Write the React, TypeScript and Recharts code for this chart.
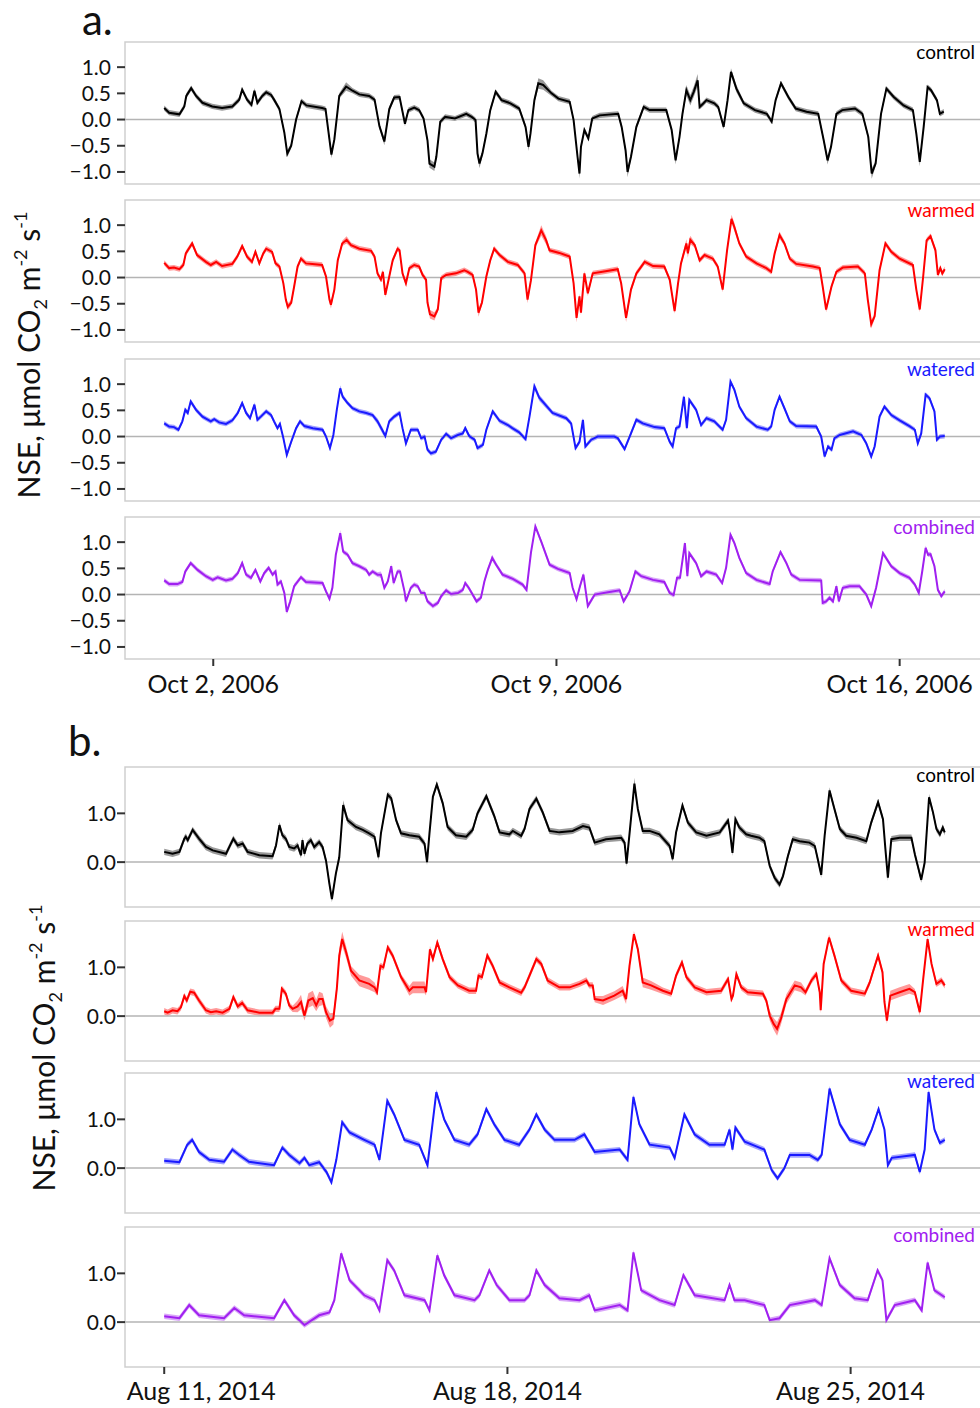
import React from 'react';
import { ComposedChart, Line, Area, XAxis, YAxis, ReferenceLine, ReferenceArea } from 'recharts';

const FONT = 'Lato, "Open Sans", "DejaVu Sans", sans-serif';

// ---- axis definitions ----
const aTickDays = [1, 8, 15];
const aTickLabels = ['Oct 2, 2006', 'Oct 9, 2006', 'Oct 16, 2006'];
const bTickDays = [0, 7, 14];
const bTickLabels = ['Aug 11, 2014', 'Aug 18, 2014', 'Aug 25, 2014'];
const aYTicks = [-1, -0.5, 0, 0.5, 1];
const bYTicks = [0, 1];
const treatmentNames = ['control', 'warmed', 'watered', 'combined'];
const treatmentColors = ['#000000', '#ff0000', '#1a1aff', '#a020f0'];

// ---- data: [day since start, NSE, optional half-width of ribbon] ----
const aControl = [[0.00,0.22],[0.10,0.13],[0.31,0.10],[0.41,0.25],[0.45,0.45],[0.55,0.60],[0.65,0.45],[0.78,0.32],[0.98,0.25],[1.18,0.22],[1.39,0.25],[1.53,0.38],[1.59,0.57],[1.69,0.38],[1.78,0.28],[1.84,0.55],[1.90,0.32],[2.00,0.45],[2.08,0.52],[2.18,0.47],[2.24,0.38],[2.35,0.20],[2.45,-0.25],[2.51,-0.65,0.07],[2.59,-0.50],[2.69,0.00],[2.80,0.35],[2.90,0.27],[3.22,0.22],[3.29,0.20],[3.41,-0.67,0.07],[3.47,-0.38],[3.57,0.45],[3.71,0.63,0.08],[3.84,0.55],[3.98,0.48],[4.18,0.45],[4.29,0.38],[4.39,-0.13],[4.49,-0.42,0.07],[4.59,0.20],[4.69,0.42],[4.80,0.43],[4.91,-0.08],[4.98,0.18],[5.10,0.23],[5.20,0.18],[5.29,0.02],[5.37,-0.40],[5.41,-0.84,0.08],[5.51,-0.90,0.08],[5.55,-0.71],[5.63,-0.04],[5.73,0.05],[5.93,0.02],[6.16,0.11],[6.27,0.05],[6.35,-0.01],[6.39,-0.65],[6.43,-0.84,0.09],[6.49,-0.65],[6.57,-0.27],[6.65,0.18],[6.76,0.53],[6.88,0.37],[7.06,0.31],[7.24,0.21],[7.37,-0.14],[7.43,-0.52,0.08],[7.47,-0.27],[7.55,0.37],[7.63,0.69,0.1],[7.73,0.66,0.09],[7.90,0.50],[8.04,0.40],[8.27,0.34],[8.35,-0.01],[8.43,-0.71],[8.47,-1.03,0.1],[8.50,-0.52],[8.57,-0.20],[8.65,-0.36],[8.73,0.02],[8.88,0.08],[9.26,0.11],[9.33,-0.14],[9.41,-0.59],[9.45,-1.00,0.1],[9.52,-0.71],[9.63,-0.14],[9.78,0.24],[9.90,0.18],[10.24,0.18],[10.35,-0.20],[10.43,-0.78,0.08],[10.51,-0.33],[10.57,0.11],[10.65,0.56,0.1],[10.73,0.37,0.1],[10.80,0.53,0.1],[10.88,0.75,0.12],[10.92,0.24],[11.00,0.31],[11.06,0.37],[11.22,0.31],[11.30,0.24],[11.41,-0.14],[11.49,0.37],[11.56,0.91,0.07],[11.67,0.59,0.07],[11.82,0.31],[12.05,0.18],[12.29,0.11],[12.39,-0.04],[12.47,0.37],[12.58,0.69],[12.73,0.43],[12.88,0.21],[13.10,0.15],[13.34,0.11],[13.45,-0.39],[13.53,-0.78,0.08],[13.60,-0.52],[13.71,0.11],[13.83,0.18],[14.09,0.21],[14.24,0.11],[14.36,-0.33],[14.43,-1.03,0.1],[14.51,-0.84],[14.62,0.11],[14.73,0.59],[14.88,0.43],[15.08,0.27],[15.27,0.18],[15.34,-0.27],[15.41,-0.81,0.08],[15.49,-0.14],[15.57,0.62],[15.64,0.56],[15.76,0.37],[15.82,0.11],[15.90,0.15]];

const aWarmed = [[0.00,0.28],[0.10,0.18],[0.20,0.19],[0.31,0.16],[0.39,0.24],[0.44,0.46],[0.57,0.65],[0.67,0.43],[0.85,0.30],[0.95,0.24],[1.06,0.30],[1.18,0.22],[1.39,0.26],[1.49,0.40],[1.59,0.60],[1.69,0.40],[1.79,0.30],[1.86,0.49],[1.94,0.27],[2.02,0.46],[2.08,0.55],[2.20,0.49],[2.27,0.27],[2.35,0.21],[2.43,-0.11],[2.48,-0.42],[2.52,-0.56,0.07],[2.59,-0.48],[2.65,-0.17],[2.72,0.21],[2.79,0.36],[2.89,0.27],[3.02,0.26],[3.22,0.24],[3.30,0.02],[3.37,-0.42],[3.40,-0.52,0.07],[3.47,-0.23],[3.54,0.33],[3.63,0.65],[3.72,0.72,0.07],[3.81,0.62],[3.98,0.55],[4.22,0.51],[4.29,0.40],[4.35,0.08],[4.42,-0.04],[4.46,0.11],[4.51,-0.33],[4.59,0.02],[4.66,0.33],[4.76,0.55],[4.80,0.52],[4.86,0.08],[4.93,-0.11],[5.00,0.18],[5.10,0.24],[5.20,0.21],[5.27,0.05],[5.34,-0.04],[5.37,-0.48],[5.42,-0.70,0.08],[5.51,-0.74,0.08],[5.58,-0.61],[5.65,-0.01],[5.75,0.05],[5.95,0.08],[6.12,0.14],[6.19,0.11],[6.29,0.05],[6.36,-0.23],[6.41,-0.67,0.08],[6.48,-0.48],[6.57,0.02],[6.65,0.33],[6.73,0.55],[6.84,0.43],[7.01,0.30],[7.21,0.24],[7.35,0.08],[7.41,-0.42,0.07],[7.48,-0.05],[7.57,0.62],[7.69,0.90,0.1],[7.79,0.71,0.08],[7.86,0.52],[8.06,0.47],[8.27,0.40],[8.35,-0.11],[8.41,-0.77,0.09],[8.47,-0.36],[8.50,-0.67],[8.57,0.08],[8.64,-0.30],[8.74,0.08],[8.94,0.11],[9.25,0.16],[9.32,-0.11],[9.42,-0.77,0.08],[9.52,-0.23],[9.63,0.08],[9.80,0.30],[9.97,0.22],[10.20,0.21],[10.31,-0.04],[10.41,-0.64],[10.48,-0.11],[10.54,0.27],[10.65,0.65,0.08],[10.68,0.46,0.08],[10.73,0.72,0.08],[10.82,0.62],[10.92,0.33],[11.02,0.43],[11.19,0.36],[11.29,0.21],[11.39,-0.23],[11.48,0.52],[11.57,1.12,0.08],[11.63,0.96,0.08],[11.73,0.65],[11.87,0.40],[12.08,0.27],[12.28,0.18],[12.38,0.11],[12.45,0.46],[12.55,0.81,0.07],[12.65,0.65],[12.76,0.36],[12.89,0.26],[13.23,0.21],[13.37,0.18],[13.43,-0.17],[13.50,-0.61],[13.61,-0.17],[13.71,0.11],[13.84,0.19],[14.15,0.21],[14.29,0.08],[14.35,-0.42],[14.42,-0.89,0.08],[14.49,-0.74],[14.59,0.14],[14.71,0.65],[14.83,0.49],[15.00,0.36],[15.27,0.24],[15.34,-0.23],[15.41,-0.61],[15.48,0.02],[15.55,0.71],[15.63,0.79],[15.73,0.52],[15.78,0.05],[15.83,0.18],[15.87,0.08],[15.92,0.16]];

const aWatered = [[0.00,0.25],[0.10,0.19],[0.20,0.18],[0.29,0.13],[0.37,0.29],[0.43,0.51],[0.48,0.45],[0.54,0.67],[0.65,0.51],[0.78,0.38],[0.95,0.29],[1.02,0.33],[1.12,0.27],[1.26,0.24],[1.39,0.31],[1.50,0.45],[1.59,0.64],[1.67,0.45],[1.75,0.35],[1.84,0.61],[1.90,0.32],[1.97,0.38],[2.08,0.48],[2.18,0.41],[2.24,0.29],[2.31,0.16],[2.36,0.24],[2.43,-0.03],[2.50,-0.35],[2.59,-0.10],[2.69,0.16],[2.77,0.29],[2.86,0.20],[3.03,0.16],[3.23,0.13],[3.30,0.00],[3.38,-0.22],[3.45,0.03],[3.52,0.51],[3.59,0.92,0.06],[3.64,0.76],[3.74,0.64],[3.84,0.54],[3.98,0.48],[4.12,0.45],[4.25,0.41],[4.35,0.29,0.06],[4.46,0.10,0.06],[4.51,0.01],[4.59,0.29],[4.69,0.38],[4.80,0.45],[4.86,0.16],[4.93,-0.13],[5.03,0.13],[5.17,0.13],[5.24,-0.03],[5.31,0.00],[5.37,-0.25],[5.44,-0.32],[5.54,-0.29],[5.65,-0.06],[5.75,0.05],[5.85,-0.03],[5.99,0.03],[6.09,0.06],[6.14,0.16],[6.22,0.01],[6.33,-0.06],[6.39,-0.22],[6.50,-0.16],[6.57,0.13],[6.70,0.48],[6.84,0.30],[7.01,0.22],[7.10,0.16],[7.24,0.08],[7.37,-0.05],[7.45,0.38],[7.55,0.96,0.06],[7.65,0.74,0.06],[7.92,0.45],[8.20,0.35],[8.30,0.25],[8.39,-0.22],[8.47,-0.10],[8.54,0.32],[8.59,-0.19],[8.71,-0.06],[8.84,0.00],[9.18,0.00],[9.25,-0.03],[9.39,-0.24],[9.52,0.06],[9.63,0.32],[9.76,0.25],[10.00,0.18],[10.20,0.16],[10.31,-0.10],[10.37,-0.19],[10.44,0.16],[10.51,0.19],[10.60,0.76],[10.66,0.16],[10.71,0.70],[10.85,0.51],[10.95,0.22],[11.06,0.35],[11.22,0.29],[11.39,0.13],[11.46,0.32],[11.55,1.05],[11.63,0.89],[11.73,0.57],[11.87,0.35],[12.08,0.19],[12.31,0.13],[12.38,0.19],[12.45,0.51],[12.55,0.76],[12.65,0.54],[12.76,0.29],[12.89,0.20],[13.30,0.19],[13.40,0.00],[13.47,-0.38],[13.54,-0.19],[13.61,-0.25],[13.67,-0.03],[13.78,0.03],[14.05,0.10],[14.22,0.03],[14.32,-0.13],[14.42,-0.38],[14.49,-0.19],[14.59,0.38],[14.69,0.57],[14.83,0.41],[15.00,0.31],[15.20,0.20],[15.31,0.13],[15.37,-0.13],[15.44,0.06],[15.53,0.80],[15.61,0.73],[15.71,0.48],[15.76,-0.06],[15.82,0.00],[15.92,0.01]];

const aCombined = [[0.00,0.27],[0.10,0.20],[0.27,0.20],[0.37,0.24],[0.43,0.44],[0.54,0.60],[0.68,0.47],[0.85,0.35],[0.99,0.28],[1.09,0.33],[1.26,0.27],[1.39,0.30],[1.50,0.41],[1.59,0.60],[1.67,0.38],[1.77,0.32],[1.86,0.47],[1.96,0.25],[2.04,0.41],[2.13,0.51],[2.21,0.38],[2.27,0.44],[2.31,0.19],[2.38,0.25],[2.45,0.03],[2.50,-0.33],[2.57,-0.13],[2.65,0.16],[2.79,0.33],[2.89,0.24],[3.23,0.22],[3.30,0.06],[3.37,-0.08],[3.43,0.13],[3.50,0.76],[3.59,1.17,0.06],[3.65,0.82],[3.74,0.76],[3.84,0.60],[3.98,0.54],[4.12,0.47],[4.18,0.38],[4.25,0.44],[4.35,0.38],[4.42,0.38,0.06],[4.49,0.13],[4.56,0.25],[4.63,0.54],[4.68,0.22],[4.76,0.44],[4.81,0.44],[4.90,0.06],[4.93,-0.13],[5.03,0.13],[5.10,0.19],[5.17,0.16],[5.24,0.03],[5.31,0.03],[5.37,-0.13],[5.48,-0.22],[5.58,-0.16],[5.65,-0.03],[5.75,0.08],[5.85,0.01],[5.99,0.03],[6.09,0.09],[6.14,0.22],[6.21,0.13],[6.29,0.00],[6.37,-0.13],[6.46,-0.06],[6.53,0.25],[6.60,0.47],[6.69,0.70,0.06],[6.77,0.57],[6.90,0.38],[7.11,0.30],[7.31,0.19],[7.39,0.09],[7.48,0.80],[7.57,1.30],[7.69,1.01],[7.86,0.57],[8.03,0.49],[8.27,0.41],[8.33,0.13],[8.41,-0.09],[8.48,0.16],[8.55,0.38],[8.64,-0.22],[8.78,0.00],[9.08,0.05],[9.29,0.08],[9.37,-0.13],[9.49,0.06],[9.61,0.44],[9.73,0.35],[9.97,0.28],[10.20,0.24],[10.31,0.03],[10.39,-0.01],[10.46,0.32],[10.52,0.32],[10.62,0.98],[10.67,0.35],[10.71,0.79],[10.85,0.60],[10.95,0.35],[11.06,0.44],[11.26,0.38],[11.38,0.22],[11.46,0.51],[11.55,1.14],[11.63,0.98],[11.73,0.70],[11.87,0.41],[12.08,0.28],[12.35,0.20],[12.41,0.44],[12.57,0.81],[12.69,0.60],[12.79,0.38],[12.96,0.28],[13.40,0.27],[13.43,-0.16],[13.50,-0.13],[13.57,-0.06],[13.64,-0.13],[13.71,0.16],[13.76,-0.13],[13.84,0.13],[13.98,0.16],[14.18,0.16],[14.32,0.00],[14.42,-0.22],[14.52,0.13],[14.66,0.79],[14.83,0.54],[15.00,0.41],[15.20,0.32],[15.31,0.19],[15.39,0.03],[15.46,0.44],[15.53,0.89],[15.58,0.76],[15.63,0.77],[15.71,0.54],[15.78,0.09],[15.85,-0.03],[15.92,0.06]];

const bControl = [[0.00,0.21],[0.17,0.17],[0.31,0.21],[0.41,0.48],[0.44,0.52],[0.48,0.45],[0.58,0.66],[0.71,0.48],[0.85,0.31],[0.99,0.24],[1.26,0.17],[1.36,0.38],[1.41,0.48],[1.50,0.34],[1.60,0.38],[1.70,0.21],[1.94,0.14],[2.21,0.12],[2.28,0.34],[2.35,0.76],[2.41,0.55],[2.48,0.48],[2.55,0.31],[2.65,0.28],[2.72,0.34],[2.79,0.14],[2.82,0.45],[2.86,0.17],[2.92,0.38],[2.99,0.45],[3.06,0.31],[3.16,0.41],[3.23,0.31],[3.30,0.03],[3.37,-0.45],[3.42,-0.76],[3.50,-0.24],[3.57,0.10],[3.65,1.17,0.1],[3.74,0.86],[3.91,0.72],[4.05,0.66],[4.18,0.59],[4.29,0.52],[4.37,0.10],[4.42,0.59],[4.56,1.38],[4.63,1.31],[4.73,0.86],[4.83,0.59],[5.00,0.55],[5.20,0.52],[5.31,0.38],[5.36,0.00],[5.41,0.59],[5.48,1.34],[5.56,1.59],[5.68,1.21],[5.78,0.72],[5.95,0.55],[6.16,0.52],[6.29,0.66],[6.39,1.00],[6.57,1.35],[6.73,0.95],[6.84,0.61],[7.04,0.57],[7.11,0.64],[7.28,0.54],[7.35,0.68],[7.45,1.09],[7.59,1.30],[7.72,1.02],[7.86,0.64],[8.06,0.61],[8.33,0.64],[8.54,0.74],[8.67,0.71],[8.78,0.40],[9.01,0.47],[9.32,0.50],[9.39,0.40],[9.43,-0.03],[9.50,0.68],[9.59,1.61,0.12],[9.66,1.09],[9.76,0.64],[9.90,0.64],[10.10,0.57],[10.31,0.33],[10.37,0.06],[10.44,0.61],[10.57,1.16],[10.68,0.81],[10.85,0.61],[11.06,0.54],[11.33,0.61],[11.50,0.85],[11.54,0.61],[11.59,0.19],[11.65,0.88],[11.73,0.71],[11.87,0.57],[11.97,0.54],[12.14,0.50],[12.24,0.43],[12.35,-0.08],[12.45,-0.32],[12.55,-0.46],[12.62,-0.29],[12.72,0.12],[12.82,0.47],[12.96,0.43],[13.16,0.40],[13.27,0.33],[13.33,0.06],[13.40,-0.26],[13.47,0.54],[13.57,1.47],[13.67,1.09],[13.78,0.68],[13.91,0.54],[14.12,0.50],[14.32,0.43],[14.42,0.81],[14.56,1.23],[14.66,0.88],[14.71,0.26],[14.76,-0.32],[14.83,0.47],[15.00,0.50],[15.24,0.50],[15.31,0.16],[15.37,-0.08],[15.44,-0.36],[15.51,-0.01],[15.60,1.33],[15.68,1.02],[15.75,0.68],[15.82,0.57],[15.88,0.71],[15.92,0.61]];

const bWarmed = [[0.00,0.10],[0.07,0.07],[0.17,0.12],[0.27,0.10],[0.34,0.18],[0.41,0.41],[0.46,0.32],[0.53,0.50],[0.61,0.48],[0.71,0.32],[0.85,0.12],[0.95,0.08],[1.06,0.10],[1.19,0.07],[1.33,0.15],[1.41,0.39],[1.50,0.20],[1.59,0.27],[1.70,0.12],[1.94,0.07],[2.21,0.07],[2.27,0.15],[2.35,0.15],[2.40,0.56],[2.48,0.46],[2.55,0.22],[2.62,0.15],[2.72,0.20,0.12],[2.79,0.29,0.15],[2.86,0.01,0.1],[2.94,0.32,0.15],[3.03,0.37,0.15],[3.10,0.22,0.12],[3.16,0.35,0.15],[3.23,0.35,0.12],[3.30,0.08,0.12],[3.38,-0.09,0.15],[3.45,-0.05,0.12],[3.52,0.56,0.12],[3.57,1.24,0.15],[3.63,1.58,0.15],[3.71,1.31,0.12],[3.81,0.93,0.1],[3.98,0.73,0.12],[4.18,0.66,0.12],[4.29,0.59,0.1],[4.34,0.49],[4.41,1.03],[4.47,1.00],[4.56,1.41],[4.66,1.24],[4.83,0.80],[5.00,0.52,0.1],[5.07,0.59,0.12],[5.31,0.59,0.12],[5.34,0.49],[5.42,1.37],[5.48,1.17],[5.57,1.51],[5.68,1.17],[5.82,0.80],[5.99,0.63],[6.22,0.52],[6.36,0.52],[6.41,0.83],[6.48,0.80],[6.59,1.24],[6.70,1.03],[6.84,0.69],[7.04,0.59],[7.28,0.48],[7.35,0.59],[7.45,0.83],[7.59,1.17],[7.69,1.07],[7.82,0.73],[8.06,0.59],[8.27,0.59],[8.47,0.66],[8.61,0.73],[8.67,0.63],[8.74,0.63],[8.78,0.35],[8.95,0.32,0.09],[9.18,0.42,0.09],[9.35,0.52,0.1],[9.42,0.35,0.1],[9.49,1.03],[9.58,1.68],[9.66,1.37],[9.76,0.69,0.1],[9.93,0.63,0.09],[10.17,0.52],[10.34,0.46],[10.44,0.83],[10.56,1.10],[10.65,0.80],[10.82,0.59],[11.06,0.49],[11.36,0.52],[11.50,0.76],[11.57,0.35],[11.60,0.42],[11.67,0.86],[11.77,0.59],[11.90,0.49],[12.21,0.46],[12.28,0.32],[12.35,0.01,0.1],[12.43,-0.16,0.12],[12.50,-0.26,0.14],[12.58,-0.05,0.12],[12.69,0.35,0.1],[12.86,0.63,0.1],[12.99,0.59,0.1],[13.08,0.49],[13.20,0.73],[13.30,0.86],[13.37,0.49],[13.39,0.12],[13.45,1.07],[13.56,1.61],[13.67,1.24],[13.81,0.73],[14.01,0.52],[14.29,0.46],[14.39,0.69],[14.44,0.86],[14.56,1.24],[14.65,0.90],[14.69,0.29],[14.74,-0.09],[14.81,0.42,0.1],[15.00,0.49,0.1],[15.20,0.56,0.1],[15.31,0.49],[15.41,0.08],[15.48,0.76],[15.57,1.58],[15.65,1.07],[15.75,0.66],[15.85,0.73],[15.92,0.63]];

const bWatered = [[0.00,0.15],[0.31,0.12],[0.47,0.48],[0.57,0.58],[0.71,0.33],[0.92,0.17],[1.22,0.13],[1.39,0.38],[1.53,0.27],[1.73,0.13],[2.24,0.06],[2.41,0.42],[2.55,0.27],[2.76,0.10],[2.86,0.21],[2.96,0.06],[3.16,0.12],[3.31,-0.08],[3.41,-0.29],[3.51,0.17],[3.63,0.94],[3.78,0.73],[4.08,0.58],[4.29,0.48],[4.39,0.17],[4.55,1.38],[4.69,1.10],[4.90,0.58],[5.20,0.48],[5.37,0.06],[5.55,1.56],[5.71,1.00],[5.92,0.58],[6.22,0.48],[6.39,0.69],[6.57,1.21],[6.73,0.90],[6.94,0.58],[7.24,0.48],[7.45,0.79],[7.59,1.10],[7.76,0.79],[7.96,0.58],[8.37,0.58],[8.57,0.69],[8.78,0.33],[9.29,0.38],[9.45,0.17],[9.57,1.46],[9.69,0.90],[9.90,0.48],[10.31,0.42],[10.41,0.21],[10.61,1.10],[10.82,0.69],[11.12,0.48],[11.43,0.48],[11.53,0.79],[11.59,0.38],[11.65,0.83],[11.84,0.54],[12.24,0.38],[12.39,-0.04],[12.51,-0.21],[12.65,0.00],[12.76,0.27],[13.16,0.27],[13.33,0.17],[13.41,0.27],[13.57,1.63],[13.78,0.90],[13.98,0.58],[14.29,0.48],[14.43,0.79],[14.57,1.21],[14.69,0.79],[14.76,0.06],[14.84,0.21],[15.31,0.27],[15.41,-0.08],[15.51,0.38],[15.59,1.56],[15.71,0.79],[15.82,0.52],[15.92,0.58]];

const bCombined = [[0.00,0.12],[0.31,0.08],[0.51,0.35],[0.71,0.14],[1.22,0.08],[1.43,0.29],[1.63,0.14],[2.24,0.08],[2.45,0.45],[2.65,0.14],[2.86,-0.06],[3.16,0.14],[3.37,0.20],[3.47,0.45],[3.61,1.41],[3.78,0.86],[4.08,0.55],[4.29,0.45],[4.39,0.24],[4.55,1.27],[4.69,1.06],[4.90,0.55],[5.31,0.45],[5.41,0.24],[5.57,1.37],[5.71,0.96],[5.92,0.55],[6.33,0.45],[6.43,0.55],[6.63,1.06],[6.78,0.76],[7.04,0.45],[7.35,0.45],[7.45,0.55],[7.59,1.06],[7.76,0.76],[8.06,0.49],[8.47,0.45],[8.67,0.55],[8.78,0.24],[9.29,0.35],[9.45,0.24],[9.57,1.43],[9.73,0.65],[10.10,0.45],[10.41,0.35],[10.59,0.96],[10.82,0.55],[11.43,0.45],[11.53,0.76],[11.63,0.45],[11.84,0.45],[12.24,0.35],[12.35,0.04],[12.55,0.08],[12.76,0.35],[13.27,0.45],[13.41,0.35],[13.57,1.31],[13.78,0.76],[14.08,0.49],[14.35,0.45],[14.55,1.06],[14.65,0.86],[14.73,0.04],[14.90,0.35],[15.31,0.45],[15.45,0.24],[15.57,1.22],[15.71,0.65],[15.92,0.51]];

// typical ribbon half-widths for each series
const aSpread = [0.05, 0.05, 0.045, 0.045];
const bSpread = [0.065, 0.065, 0.055, 0.055];

const aSeries = [aControl, aWarmed, aWatered, aCombined];
const bSeries = [bControl, bWarmed, bWatered, bCombined];

// ---- layout ----
const X_DOMAIN: [number, number] = [-0.8, 16.7];
const A_DOMAIN: [number, number] = [-1.23, 1.48];
const B_DOMAIN: [number, number] = [-0.92, 1.95];
const A_TOPS = [42, 200, 359, 517];
const B_TOPS = [767, 921, 1073, 1227];
const A_H = 142;
const B_H = 140;
const PAD = 4;
const A_LABEL_SHIFT = [0, 0, 0];
const B_LABEL_SHIFT = [37, 0, 0];

const fmtY = (v: number) => (v < 0 ? '\u2212' + Math.abs(v).toFixed(1) : v.toFixed(1));

function makeXTick(ticks: number[], labels: string[], shifts: number[]) {
  return (p: any) => {
    const i = ticks.indexOf(p.payload.value);
    return (
      <text x={p.x + (shifts[i] || 0)} y={p.y} dy={18} textAnchor="middle"
        fontFamily={FONT} fontSize={25} fill="#111">{labels[i]}</text>
    );
  };
}

function Panel(props: any) {
  const { data, spread, color, top, height, yDomain, yTicks, showX, xTicks, xLabels, xShifts, yTickMargin, xTickMargin } = props;
  const rows = data.map((p: number[]) => {
    const s = p.length > 2 ? p[2] : spread;
    return { t: p[0], v: p[1], band: [p[1] - s, p[1] + s] };
  });
  const xH = showX ? 44 : 0;
  return (
    <div style={{ position: 'absolute', left: 0, top: top - PAD }}>
      <ComposedChart width={990} height={height + PAD * 2 + xH} data={rows}
        margin={{ top: PAD, right: 7, bottom: PAD, left: 0 }}>
        <XAxis dataKey="t" type="number" domain={X_DOMAIN} allowDataOverflow
          ticks={xTicks} hide={!showX} height={xH}
          axisLine={false} tickSize={7} tickMargin={xTickMargin}
          tickLine={{ stroke: '#333', strokeWidth: 2 }}
          tick={makeXTick(xTicks, xLabels, xShifts)} interval={0} />
        <YAxis type="number" domain={yDomain} allowDataOverflow ticks={yTicks} width={125}
          tickFormatter={fmtY} axisLine={false} tickSize={8} tickMargin={yTickMargin}
          tickLine={{ stroke: '#333', strokeWidth: 2 }}
          tick={{ fontSize: 21, fill: '#111', fontFamily: FONT }} interval={0} />
        <ReferenceArea x1={X_DOMAIN[0]} x2={X_DOMAIN[1]} y1={yDomain[0]} y2={yDomain[1]}
          fill="#ffffff" fillOpacity={0} stroke="#cfcfcf" strokeWidth={1.5} ifOverflow="visible" />
        <ReferenceLine y={0} stroke="#b4b4b4" strokeWidth={1.5} />
        <Area dataKey="band" type="linear" stroke="none" fill={color} fillOpacity={0.4}
          isAnimationActive={false} dot={false} activeDot={false} />
        <Line dataKey="v" type="linear" stroke={color} strokeWidth={2} dot={false}
          activeDot={false} isAnimationActive={false} />
      </ComposedChart>
    </div>
  );
}

function YTitle({ cx, cy }: { cx: number; cy: number }) {
  return (
    <text transform={`translate(${cx},${cy}) rotate(-90)`} textAnchor="middle"
      fontFamily={FONT} fontSize={30} fill="#111">
      <tspan>NSE, μmol CO</tspan>
      <tspan fontSize={18} dy={7}>2</tspan>
      <tspan dy={-7}> m</tspan>
      <tspan fontSize={18} dy={-13}>-2</tspan>
      <tspan dy={13}> s</tspan>
      <tspan fontSize={18} dy={-13}>-1</tspan>
    </text>
  );
}

const tagStyle: React.CSSProperties = {
  position: 'absolute', fontFamily: FONT, fontSize: 42, lineHeight: '36px', color: '#111', whiteSpace: 'nowrap',
};

export default function App() {
  return (
    <div style={{ position: 'absolute', left: 0, top: 0, width: 980, height: 1408, overflow: 'hidden', background: '#fff', fontFamily: FONT }}>
      {aSeries.map((d, i) => (
        <Panel key={'a' + i} data={d} spread={aSpread[i]} color={treatmentColors[i]} top={A_TOPS[i]} height={A_H}
          yDomain={A_DOMAIN} yTicks={aYTicks} showX={i === 3} xTicks={aTickDays} xLabels={aTickLabels}
          xShifts={A_LABEL_SHIFT} yTickMargin={6} xTickMargin={9} />
      ))}
      {bSeries.map((d, i) => (
        <Panel key={'b' + i} data={d} spread={bSpread[i]} color={treatmentColors[i]} top={B_TOPS[i]} height={B_H}
          yDomain={B_DOMAIN} yTicks={bYTicks} showX={i === 3} xTicks={bTickDays} xLabels={bTickLabels}
          xShifts={B_LABEL_SHIFT} yTickMargin={1} xTickMargin={8} />
      ))}
      <div style={{ ...tagStyle, left: 82, top: 1 }}>a.</div>
      <div style={{ ...tagStyle, left: 68, top: 722 }}>b.</div>
      <svg width={980} height={1408} style={{ position: 'absolute', left: 0, top: 0, pointerEvents: 'none' }}>
        <YTitle cx={40} cy={355} />
        <YTitle cx={55} cy={1048} />
        {treatmentNames.map((n, i) => (
          <text key={'la' + i} x={975} y={A_TOPS[i] + 17} textAnchor="end" fontFamily={FONT} fontSize={19}
            fill={treatmentColors[i]}>{n}</text>
        ))}
        {treatmentNames.map((n, i) => (
          <text key={'lb' + i} x={975} y={B_TOPS[i] + 15} textAnchor="end" fontFamily={FONT} fontSize={19}
            fill={treatmentColors[i]}>{n}</text>
        ))}
      </svg>
    </div>
  );
}
